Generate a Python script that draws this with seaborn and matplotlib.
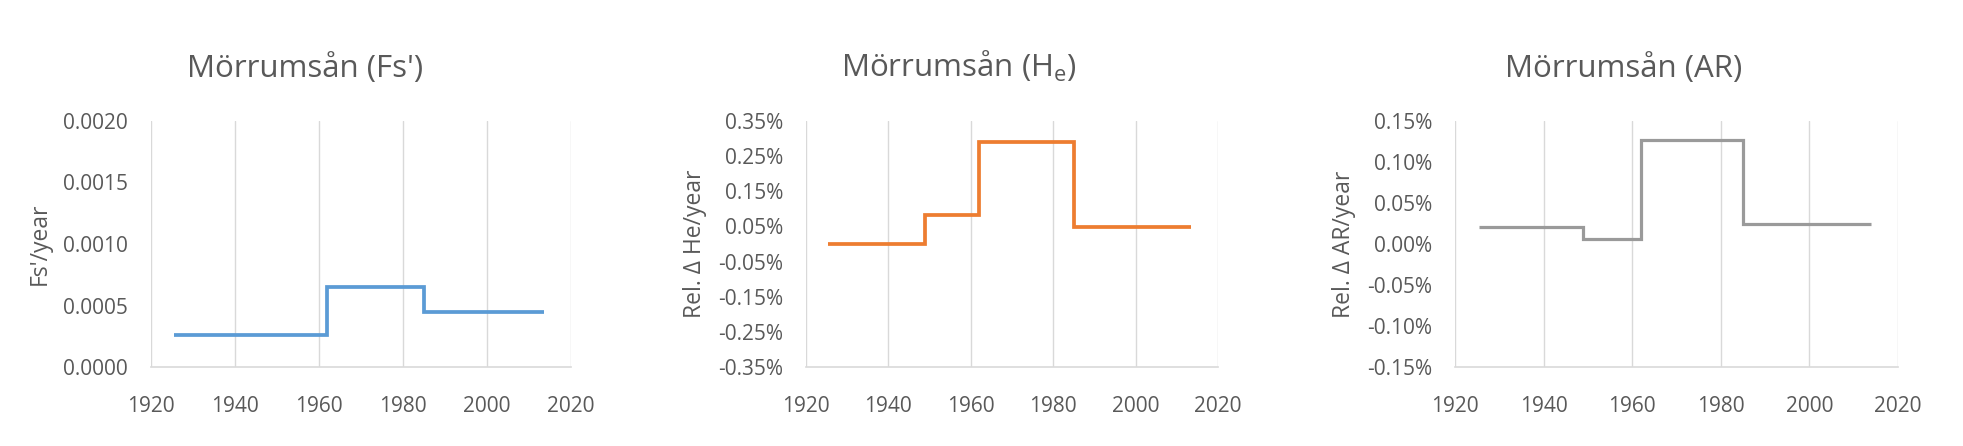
import numpy as np
import pandas as pd
import matplotlib
matplotlib.use("Agg")
import matplotlib.pyplot as plt
from matplotlib.ticker import FuncFormatter
import seaborn as sns

# ---------------- data ----------------
fs_years = [1925.5, 1962, 1985, 2013.5]
fs_values = [0.00026, 0.00065, 0.00045, 0.00045]

he_years = [1925.3, 1949, 1962, 1985, 2013.5]
he_values = [0.0000, 0.00082, 0.0029, 0.00048, 0.00048]

ar_years = [1925.4, 1949, 1962, 1985, 2013.8]
ar_values = [0.00021, 0.00006, 0.00127, 0.00024, 0.00024]

titles = ["Mörrumsån (Fs')", "Mörrumsån (H$_\\mathregular{e}$)", "Mörrumsån (AR)"]
ylabels = ["Fs'/year", "Rel. Δ He/year", "Rel. Δ AR/year"]
x_ticks = [1920, 1940, 1960, 1980, 2000, 2020]
fs_ticks = [0.0, 0.0005, 0.0010, 0.0015, 0.0020]
he_ticks = [-0.0035, -0.0025, -0.0015, -0.0005, 0.0005, 0.0015, 0.0025, 0.0035]
ar_ticks = [-0.0015, -0.0010, -0.0005, 0.0, 0.0005, 0.0010, 0.0015]

# ---------------- style ----------------
sns.set_style("white")
plt.rcParams["font.family"] = ["Open Sans", "DejaVu Sans"]
plt.rcParams["axes.unicode_minus"] = False
plt.rcParams["mathtext.default"] = "regular"

TXT = "#595959"
GRID = "#d9d9d9"
W, H = 1963, 446
fig = plt.figure(figsize=(W / 100, H / 100), dpi=100)
fig.patch.set_facecolor("white")

boxes = [(151, 571), (806, 1218), (1455, 1898)]
top_px, bot_px = 121, 367
title_cx = [305, 959, 1624]


def pct(v, p):
    if abs(v) < 1e-12:
        v = 0.0
    return f"{v*100:.2f}%"


series = [
    (fs_years, fs_values, "#5B9BD5", 2.7, fs_ticks, (0, 0.002), lambda v, p: f"{v:.4f}"),
    (he_years, he_values, "#ED7D31", 2.7, he_ticks, (-0.0035, 0.0035), pct),
    (ar_years, ar_values, "#9a9a9a", 2.3, ar_ticks, (-0.0015, 0.0015), pct),
]

for i, ((l, r), (xs, ys, col, lw, yt, ylim, fmt)) in enumerate(zip(boxes, series)):
    ax = fig.add_axes([l / W, 1 - bot_px / H, (r - l) / W, (bot_px - top_px) / H])
    df = pd.DataFrame({"year": xs, "value": ys})
    sns.lineplot(data=df, x="year", y="value", ax=ax, color=col, linewidth=lw,
                 drawstyle="steps-post", estimator=None, sort=False,
                 solid_joinstyle="miter", solid_capstyle="butt")
    ax.set_xlim(1920, 2020)
    ax.set_ylim(*ylim)
    ax.set_xticks(x_ticks)
    ax.set_yticks(yt)
    ax.yaxis.set_major_formatter(FuncFormatter(fmt))
    ax.grid(axis="x", color=GRID, linewidth=1.0)
    ax.grid(axis="y", visible=False)
    for s in ["left", "right", "top"]:
        ax.spines[s].set_visible(False)
    ax.spines["bottom"].set_color(GRID)
    ax.spines["bottom"].set_linewidth(1.2)
    ax.tick_params(axis="both", length=0, labelsize=15, labelcolor=TXT)
    ax.tick_params(axis="y", pad=16.5)
    ax.tick_params(axis="x", pad=21)
    ax.set_xlabel("")
    ax.set_ylabel(ylabels[i], fontsize=16.5, color=TXT, va="center")
    ax.yaxis.set_label_coords(-111 / (r - l), 0.5)
    fig.text(title_cx[i] / W, 1 - 77 / H, titles[i], ha="center", va="baseline",
             fontsize=22.5, color=TXT)

fig.savefig("out.png", dpi=100, facecolor="white")
